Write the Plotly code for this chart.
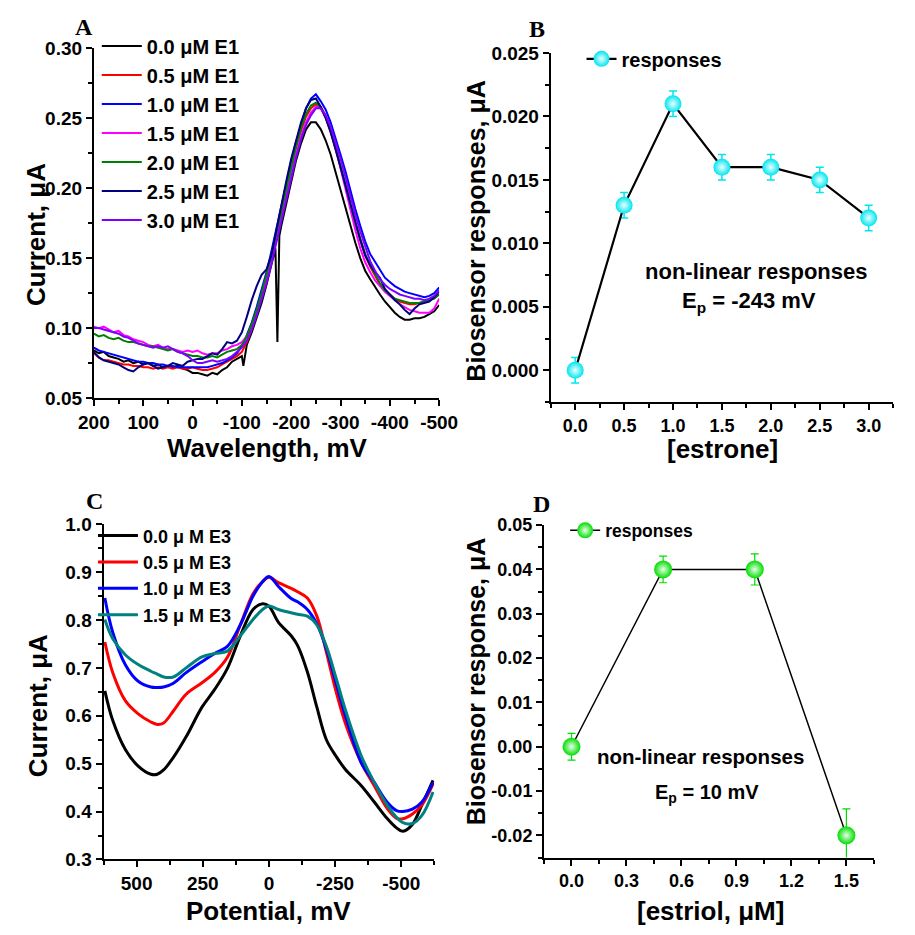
import plotly.graph_objects as go

W, H = 915, 935

# ---------------- Panel A data (E1) ----------------
potential_a = [200, 190, 180, 170, 160, 150, 140, 130, 120, 110, 100, 90, 80, 70, 60, 50, 40, 30, 20, 10,
               0, -10, -20, -30, -40, -50, -60, -70, -80, -90, -100, -110, -120, -130, -140, -150, -160,
               -170, -180, -190, -200, -210, -220, -230, -240, -250, -260, -270, -280, -290, -300, -310,
               -320, -330, -340, -350, -360, -370, -380, -390, -400, -410, -420, -430, -440, -450, -460,
               -470, -480, -490, -500]

potential_a_black = [200, 190, 180, 170, 160, 150, 140, 130, 120, 110, 100, 90, 80, 70, 60, 50, 40, 30, 20, 10,
                     0, -10, -20, -30, -40, -50, -60, -70, -80, -90, -100, -103, -110, -120, -130, -140, -150,
                     -160, -168, -172, -176, -180, -190, -200, -210, -220, -230, -240, -250, -260, -270, -280,
                     -290, -300, -310, -320, -330, -340, -350, -360, -370, -380, -390, -400, -410, -420, -430,
                     -440, -450, -460, -470, -480, -490, -500]

e1_00 = [0.084, 0.082, 0.083, 0.080, 0.079, 0.078, 0.076, 0.077, 0.075, 0.076, 0.074, 0.075, 0.073, 0.074, 0.072,
         0.073, 0.072, 0.073, 0.071, 0.070, 0.068, 0.068, 0.067, 0.066, 0.068, 0.067, 0.070, 0.072, 0.076, 0.078,
         0.080, 0.073, 0.088, 0.097, 0.107, 0.118, 0.131, 0.145, 0.157, 0.090, 0.166, 0.173, 0.189, 0.205, 0.220,
         0.232, 0.242, 0.247, 0.247, 0.242, 0.234, 0.224, 0.211, 0.198, 0.186, 0.174, 0.161, 0.150, 0.141, 0.135,
         0.129, 0.124, 0.119, 0.115, 0.111, 0.108, 0.106, 0.106, 0.107, 0.107, 0.108, 0.110, 0.112, 0.1165]

e1_05 = [0.082, 0.079, 0.077, 0.077, 0.076, 0.075, 0.074, 0.074, 0.073, 0.073, 0.072, 0.072, 0.071, 0.072, 0.071,
         0.072, 0.071, 0.072, 0.071, 0.071, 0.072, 0.071, 0.070, 0.070, 0.071, 0.072, 0.074, 0.076, 0.078, 0.080,
         0.083, 0.090, 0.099, 0.110, 0.122, 0.135, 0.150, 0.166, 0.183, 0.199, 0.215, 0.229, 0.241, 0.251, 0.257,
         0.260, 0.257, 0.250, 0.240, 0.228, 0.215, 0.202, 0.188, 0.175, 0.163, 0.152, 0.144, 0.137, 0.131, 0.127,
         0.124, 0.121, 0.119, 0.118, 0.117, 0.117, 0.118, 0.119, 0.120, 0.122, 0.124]

e1_10 = [0.086, 0.084, 0.083, 0.082, 0.081, 0.080, 0.079, 0.078, 0.077, 0.076, 0.076, 0.075, 0.075, 0.074, 0.074,
         0.073, 0.073, 0.072, 0.072, 0.072, 0.072, 0.072, 0.072, 0.072, 0.073, 0.074, 0.075, 0.077, 0.079, 0.082,
         0.087, 0.095, 0.104, 0.115, 0.127, 0.140, 0.155, 0.171, 0.188, 0.204, 0.219, 0.233, 0.246, 0.257, 0.264,
         0.267, 0.262, 0.256, 0.247, 0.236, 0.224, 0.212, 0.198, 0.185, 0.173, 0.162, 0.153, 0.147, 0.141, 0.136,
         0.133, 0.130, 0.128, 0.126, 0.125, 0.124, 0.123, 0.122, 0.123, 0.125, 0.129]

e1_15 = [0.101, 0.100, 0.101, 0.099, 0.097, 0.098, 0.095, 0.094, 0.092, 0.091, 0.090, 0.088, 0.087, 0.088, 0.086,
         0.085, 0.085, 0.084, 0.083, 0.084, 0.083, 0.084, 0.082, 0.081, 0.082, 0.082, 0.084, 0.085, 0.087, 0.088,
         0.090, 0.094, 0.101, 0.111, 0.122, 0.134, 0.148, 0.163, 0.179, 0.195, 0.211, 0.225, 0.237, 0.247, 0.254,
         0.258, 0.258, 0.252, 0.242, 0.229, 0.214, 0.199, 0.184, 0.170, 0.157, 0.147, 0.140, 0.134, 0.130, 0.126,
         0.123, 0.120, 0.117, 0.115, 0.113, 0.112, 0.111, 0.111, 0.111, 0.114, 0.121]

e1_20 = [0.096, 0.094, 0.095, 0.093, 0.092, 0.093, 0.091, 0.090, 0.090, 0.089, 0.088, 0.087, 0.087, 0.086, 0.085,
         0.084, 0.085, 0.083, 0.082, 0.081, 0.080, 0.080, 0.079, 0.079, 0.080, 0.079, 0.081, 0.083, 0.084, 0.085,
         0.088, 0.094, 0.103, 0.113, 0.125, 0.138, 0.152, 0.168, 0.184, 0.200, 0.216, 0.230, 0.243, 0.253, 0.259,
         0.261, 0.258, 0.251, 0.241, 0.229, 0.216, 0.203, 0.189, 0.176, 0.164, 0.153, 0.145, 0.138, 0.132, 0.127,
         0.124, 0.121, 0.120, 0.119, 0.118, 0.118, 0.118, 0.119, 0.120, 0.121, 0.124]

e1_25 = [0.083, 0.079, 0.077, 0.076, 0.075, 0.074, 0.072, 0.070, 0.069, 0.072, 0.074, 0.075, 0.073, 0.071, 0.072,
         0.073, 0.075, 0.074, 0.073, 0.076, 0.077, 0.078, 0.078, 0.080, 0.082, 0.081, 0.085, 0.090, 0.089, 0.091,
         0.097, 0.108, 0.120, 0.130, 0.138, 0.142, 0.152, 0.170, 0.188, 0.205, 0.221, 0.235, 0.247, 0.257, 0.263,
         0.264, 0.258, 0.250, 0.240, 0.228, 0.215, 0.202, 0.188, 0.175, 0.163, 0.152, 0.145, 0.140, 0.136, 0.128,
         0.124, 0.120, 0.117, 0.113, 0.110, 0.114, 0.117, 0.118, 0.119, 0.122, 0.126]

e1_30 = [0.100, 0.100, 0.099, 0.098, 0.097, 0.096, 0.094, 0.093, 0.091, 0.089, 0.088, 0.087, 0.086, 0.087, 0.086,
         0.087, 0.085, 0.083, 0.082, 0.080, 0.077, 0.075, 0.075, 0.076, 0.077, 0.076, 0.077, 0.078, 0.080, 0.083,
         0.086, 0.091, 0.099, 0.109, 0.120, 0.132, 0.146, 0.161, 0.177, 0.193, 0.208, 0.222, 0.235, 0.245, 0.252,
         0.257, 0.257, 0.252, 0.244, 0.233, 0.221, 0.208, 0.194, 0.181, 0.169, 0.158, 0.148, 0.141, 0.135, 0.131,
         0.128, 0.126, 0.124, 0.123, 0.122, 0.121, 0.121, 0.120, 0.121, 0.123, 0.127]

a_names = ["0.0 μM E1", "0.5 μM E1", "1.0 μM E1", "1.5 μM E1", "2.0 μM E1", "2.5 μM E1", "3.0 μM E1"]
a_colors = ["#000000", "#ff0000", "#0000ff", "#ff00ff", "#008000", "#000080", "#8000ff"]
a_xticks = [200, 100, 0, -100, -200, -300, -400, -500]
a_xticklabels = ["200", "100", "0", "-100", "-200", "-300", "-400", "-500"]

# ---------------- Panel B data (estrone) ----------------
estrone = [0.0, 0.5, 1.0, 1.5, 2.0, 2.5, 3.0]
estrone_resp = [0.000, 0.013, 0.021, 0.016, 0.016, 0.015, 0.012]
estrone_err = [0.001, 0.001, 0.001, 0.001, 0.001, 0.001, 0.001]

# ---------------- Panel C data (E3) ----------------
potential_c = [620, 590, 542, 494, 446, 422, 398, 361, 313, 253, 205, 157, 108, 60, 24, 0, -36, -84, -108,
               -145, -181, -217, -253, -289, -349, -398, -446, -482, -506, -542, -578, -620]
e3_00 = [0.652, 0.590, 0.529, 0.495, 0.478, 0.478, 0.487, 0.513, 0.556, 0.618, 0.655, 0.699, 0.767, 0.822,
         0.834, 0.829, 0.795, 0.767, 0.747, 0.692, 0.618, 0.550, 0.516, 0.488, 0.454, 0.420, 0.386, 0.366,
         0.359, 0.373, 0.414, 0.465]
e3_05 = [0.754, 0.690, 0.631, 0.604, 0.587, 0.582, 0.585, 0.610, 0.645, 0.669, 0.690, 0.722, 0.790, 0.855,
         0.880, 0.889, 0.878, 0.866, 0.859, 0.846, 0.808, 0.733, 0.652, 0.584, 0.502, 0.454, 0.407, 0.386,
         0.385, 0.395, 0.414, 0.458]
e3_10 = [0.846, 0.774, 0.706, 0.672, 0.660, 0.659, 0.660, 0.668, 0.690, 0.713, 0.730, 0.745, 0.790, 0.850,
         0.880, 0.891, 0.870, 0.845, 0.838, 0.822, 0.792, 0.740, 0.670, 0.600, 0.502, 0.461, 0.420, 0.402,
         0.400, 0.405, 0.420, 0.461]
e3_15 = [0.801, 0.761, 0.727, 0.707, 0.693, 0.687, 0.681, 0.681, 0.700, 0.723, 0.730, 0.735, 0.767, 0.801,
         0.822, 0.829, 0.822, 0.815, 0.812, 0.808, 0.790, 0.745, 0.680, 0.612, 0.516, 0.461, 0.414, 0.388,
         0.377, 0.375, 0.392, 0.441]
c_names = ["0.0 μ M E3", "0.5 μ M E3", "1.0 μ M E3", "1.5 μ M E3"]
c_colors = ["#000000", "#ff0000", "#0000ff", "#008080"]
c_xticks = [500, 250, 0, -250, -500]
c_xticklabels = ["500", "250", "0", "-250", "-500"]

# ---------------- Panel D data (estriol) ----------------
estriol = [0.0, 0.5, 1.0, 1.5]
estriol_resp = [0.000, 0.040, 0.040, -0.020]
estriol_err_plus = [0.003, 0.003, 0.0035, 0.006]
estriol_err_minus = [0.003, 0.003, 0.0035, 0.006]
d_yticks = [-0.02, -0.01, 0.00, 0.01, 0.02, 0.03, 0.04, 0.05]
d_yticklabels = ["-0.02", "-0.01", "0.00", "0.01", "0.02", "0.03", "0.04", "0.05"]


def fx(px):
    return px / W


def fy(py):
    return 1 - py / H


SANS = "Liberation Sans, Arial, sans-serif"
SERIF = "Liberation Serif, Times New Roman, serif"

fig = go.Figure()

# Panel A traces
a_series = [e1_00, e1_05, e1_10, e1_15, e1_20, e1_25, e1_30]
for i, (name, col, ys) in enumerate(zip(a_names, a_colors, a_series)):
    xs = potential_a_black if i == 0 else potential_a
    fig.add_trace(go.Scatter(x=xs, y=ys, mode="lines", name=name,
                             line=dict(color=col, width=2), xaxis="x", yaxis="y", legend="legend"))

# Panel B
fig.add_trace(go.Scatter(
    x=estrone, y=estrone_resp, mode="lines+markers", name="responses",
    line=dict(color="black", width=2.2),
    marker=dict(size=17, color="#00e5ee", line=dict(width=0),
                gradient=dict(type="radial", color="#eaffff")),
    error_y=dict(type="data", array=estrone_err, color="#00e5ee", thickness=1.5, width=4),
    xaxis="x2", yaxis="y2", legend="legend2"))

# Panel C
for name, col, ys in zip(c_names, c_colors, [e3_00, e3_05, e3_10, e3_15]):
    fig.add_trace(go.Scatter(x=potential_c, y=ys, mode="lines", name=name,
                             line=dict(color=col, width=3, shape="spline", smoothing=1.0),
                             xaxis="x3", yaxis="y3", legend="legend3"))

# Panel D
fig.add_trace(go.Scatter(
    x=estriol, y=estriol_resp, mode="lines+markers", name="responses",
    line=dict(color="black", width=1.5),
    marker=dict(size=18, color="#00dd00", line=dict(width=0),
                gradient=dict(type="radial", color="#e8ffe8")),
    error_y=dict(type="data", array=estriol_err_plus, arrayminus=estriol_err_minus,
                 color="#00dd00", thickness=1.2, width=4),
    xaxis="x4", yaxis="y4", legend="legend4"))


def tf(size):
    return dict(family=SANS, size=size, color="black", weight="bold")


def minor(dt):
    return dict(dtick=dt, tick0=0, ticks="outside", ticklen=4, tickwidth=1.5, tickcolor="black")


common = dict(showgrid=False, zeroline=False, showline=True, linecolor="black", linewidth=2,
              ticks="outside", ticklen=6, tickwidth=2, tickcolor="black", mirror=False)

fig.update_layout(
    width=W, height=H, margin=dict(l=0, r=0, t=0, b=0),
    paper_bgcolor="white", plot_bgcolor="white",
    xaxis=dict(domain=[fx(81), fx(440)], range=[200, -500], anchor="y",
               tickvals=a_xticks, ticktext=a_xticklabels, tickfont=tf(19), minor=minor(50), **common),
    yaxis=dict(domain=[fy(397), fy(39)], range=[0.05, 0.30], anchor="x", dtick=0.05, tick0=0,
               tickformat=".2f", tickfont=tf(19), minor=minor(0.025), **common),
    xaxis2=dict(domain=[fx(556), fx(912)], range=[-0.25, 3.25], anchor="y2", dtick=0.5, tick0=0,
                tickformat=".1f", tickfont=tf(18), minor=minor(0.25), **common),
    yaxis2=dict(domain=[fy(401), fy(44)], range=[-0.0025, 0.025], anchor="x2", dtick=0.005, tick0=0,
                tickformat=".3f", tickfont=tf(19), minor=minor(0.0025), **common),
    xaxis3=dict(domain=[fx(91), fx(435)], range=[625, -625], anchor="y3",
                tickvals=c_xticks, ticktext=c_xticklabels, tickfont=tf(19), minor=minor(125), **common),
    yaxis3=dict(domain=[fy(869), fy(526)], range=[0.3, 1.0], anchor="x3", dtick=0.1, tick0=0,
                tickformat=".1f", tickfont=tf(19), minor=minor(0.05), **common),
    xaxis4=dict(domain=[fx(549), fx(892)], range=[-0.15, 1.65], anchor="y4", dtick=0.3, tick0=0,
                tickformat=".1f", tickfont=tf(18), minor=minor(0.15), **common),
    yaxis4=dict(domain=[fy(867), fy(527)], range=[-0.025, 0.05], anchor="x4",
                tickvals=d_yticks, ticktext=d_yticklabels, tickfont=tf(18), minor=minor(0.005), **common),
    legend=dict(x=fx(84), y=fy(17), xanchor="left", yanchor="top", bgcolor="rgba(0,0,0,0)",
                font=tf(20), tracegroupgap=0, itemwidth=40),
    legend2=dict(x=fx(588), y=fy(30), xanchor="left", yanchor="top", bgcolor="rgba(0,0,0,0)",
                 font=tf(20)),
    legend3=dict(x=fx(80), y=fy(519), xanchor="left", yanchor="top", bgcolor="rgba(0,0,0,0)",
                 font=tf(18), itemwidth=40),
    legend4=dict(x=fx(571), y=fy(514), xanchor="left", yanchor="top", bgcolor="rgba(0,0,0,0)",
                 font=tf(17.5)),
    showlegend=True,
)

title_font = tf(26)
letter_font = dict(family=SERIF, size=24, color="black", weight="bold")

annotations = [
    # panel letters
    dict(text="A", x=fx(71), y=fy(17), font=letter_font),
    dict(text="B", x=fx(542), y=fy(19), font=letter_font),
    dict(text="C", x=fx(82), y=fy(502), font=letter_font),
    dict(text="D", x=fx(546), y=fy(505), font=letter_font),
    # axis titles
    dict(text="Wavelength, mV", x=fx(261), y=fy(448), font=title_font),
    dict(text="Current, μA", x=fx(21), y=fy(230), font=title_font, textangle=-90),
    dict(text="[estrone]", x=fx(735), y=fy(449), font=title_font),
    dict(text="Biosensor responses, μA", x=fx(478), y=fy(226), font=tf(25), textangle=-90),
    dict(text="Potential, mV", x=fx(263), y=fy(922), font=title_font),
    dict(text="Current, μA", x=fx(23), y=fy(712), font=title_font, textangle=-90),
    dict(text="[estriol, μM]", x=fx(722), y=fy(922), font=title_font),
    dict(text="Biosensor response, μA", x=fx(478), y=fy(687), font=tf(25), textangle=-90),
    # notes
    dict(text="non-linear responses", x=fx(770), y=fy(268), font=tf(22)),
    dict(text="E<sub>p</sub> = -243 mV", x=fx(762), y=fy(299), font=tf(22)),
    dict(text="non-linear responses", x=fx(712), y=fy(764), font=tf(20.5)),
    dict(text="E<sub>p</sub> = 10 mV", x=fx(718), y=fy(802), font=tf(20)),
]
for a in annotations:
    a.update(xref="paper", yref="paper", showarrow=False, xanchor="center", yanchor="middle")
fig.update_layout(annotations=annotations)

fig.write_html("out.html")
